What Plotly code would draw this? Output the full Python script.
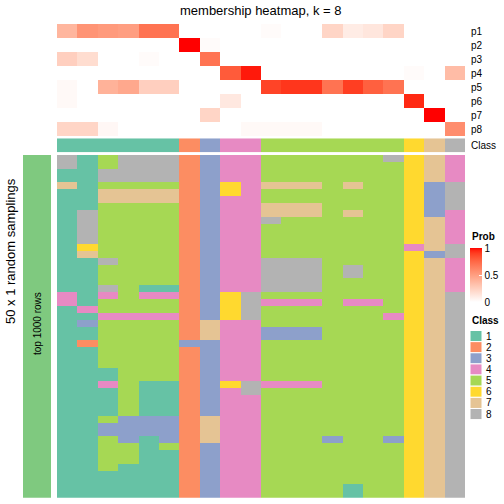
import plotly.graph_objects as go
import numpy as np

W = H = 504
FONT = "Liberation Sans"

title_text = "membership heatmap, k = 8"
left_title = "50 x 1 random samplings"
bar_label = "top 1000 rows"

prob_rows = ["p1", "p2", "p3", "p4", "p5", "p6", "p7", "p8"]
columns = list(range(1, 21))

p1 = [0.38, 0.55, 0.52, 0.50, 0.70, 0.70, 0, 0, 0, 0, 0.02, 0, 0, 0.22, 0.10, 0.13, 0.22, 0, 0, 0]
p2 = [0, 0, 0, 0, 0, 0, 1.0, 0.02, 0, 0, 0, 0, 0, 0, 0, 0, 0, 0, 0, 0]
p3 = [0.25, 0.18, 0, 0, 0.02, 0, 0, 0.70, 0, 0, 0, 0, 0, 0, 0, 0, 0, 0, 0, 0]
p4 = [0, 0, 0, 0, 0, 0, 0, 0, 0.80, 0.97, 0, 0, 0, 0, 0, 0, 0, 0.02, 0, 0.35]
p5 = [0.03, 0, 0.40, 0.45, 0.25, 0.25, 0, 0, 0, 0, 0.88, 0.92, 0.92, 0.70, 0.90, 0.78, 0.70, 0, 0, 0]
p6 = [0.03, 0, 0, 0, 0, 0, 0, 0, 0.12, 0, 0, 0, 0, 0, 0, 0, 0, 0.95, 0, 0]
p7 = [0, 0, 0, 0, 0, 0, 0, 0.22, 0, 0, 0, 0, 0, 0, 0, 0, 0, 0, 1.0, 0]
p8 = [0.22, 0.22, 0.04, 0, 0, 0, 0, 0, 0, 0.03, 0.03, 0.03, 0.03, 0, 0, 0, 0, 0, 0, 0.58]

column_class = [1, 1, 1, 1, 1, 1, 2, 3, 4, 4, 5, 5, 5, 5, 5, 5, 5, 6, 7, 8]

sampling_rows = [
    "81588823445555558674",
    "81588823445555555674",
    "11888823445555555674",
    "11888823445555555674",
    "71555523647775755638",
    "11777723645555555638",
    "11777723445555555638",
    "11555523447775555638",
    "18555523447775755634",
    "18555523448555555674",
    "18555523445555555674",
    "18555523445555555674",
    "18555523445555555674",
    "16555523445555555478",
    "17555523445555555638",
    "11855523448885555674",
    "11555523448885855674",
    "11555523448885855674",
    "11555523448885555674",
    "11851123448885555674",
    "41454423685555555678",
    "41555523684445445678",
    "14555523685555555678",
    "11444423685555554678",
    "13555527445555555678",
    "11555527443335555678",
    "11555527443335555678",
    "12555533445555555678",
    "11555523445555555678",
    "11555523445555555678",
    "11555523445555555678",
    "11155523445555555678",
    "11155523445555555678",
    "11451123684445555678",
    "11151123485555555678",
    "11151123445555555678",
    "11151123445555555678",
    "11151123445555555678",
    "11533327445555555678",
    "11333327445555555678",
    "11333327445555555678",
    "11531327445553553678",
    "11551523445555555678",
    "11551123445555555678",
    "11551123445555555678",
    "11511123445555555678",
    "11111123445555555678",
    "11111123445555555678",
    "11111123445555155678",
    "11111123445555155678",
]

class_labels = ["1", "2", "3", "4", "5", "6", "7", "8"]
class_colors = ["#66C2A5", "#FC8D62", "#8DA0CB", "#E78AC3",
                "#A6D854", "#FFD92F", "#E5C494", "#B3B3B3"]
prob_ticks = [0, 0.5, 1]
prob_tick_text = ["0", "0.5", "1"]
bar_color = "#7FC97F"


# ---- white -> red colour ramp interpolated in CIE LAB ----
def srgb_to_lab(rgb):
    c = np.array(rgb, dtype=float) / 255.0
    c = np.where(c > 0.04045, ((c + 0.055) / 1.055) ** 2.4, c / 12.92)
    M = np.array([[0.4124, 0.3576, 0.1805],
                  [0.2126, 0.7152, 0.0722],
                  [0.0193, 0.1192, 0.9505]])
    xyz = M @ c / np.array([0.95047, 1.0, 1.08883])
    f = np.where(xyz > 0.008856, np.cbrt(xyz), 7.787 * xyz + 16 / 116)
    return np.array([116 * f[1] - 16, 500 * (f[0] - f[1]), 200 * (f[1] - f[2])])


def lab_to_srgb(lab):
    L, a, b = lab
    fy = (L + 16) / 116
    fx = fy + a / 500
    fz = fy - b / 200
    f = np.array([fx, fy, fz])
    xyz = np.where(f ** 3 > 0.008856, f ** 3, (f - 16 / 116) / 7.787)
    xyz = xyz * np.array([0.95047, 1.0, 1.08883])
    Minv = np.array([[3.2406, -1.5372, -0.4986],
                     [-0.9689, 1.8758, 0.0415],
                     [0.0557, -0.2040, 1.0570]])
    c = Minv @ xyz
    c = np.clip(c, 0, 1)
    c = np.where(c > 0.0031308, 1.055 * c ** (1 / 2.4) - 0.055, 12.92 * c)
    c = np.clip(np.round(c * 255), 0, 255).astype(int)
    return "rgb(%d,%d,%d)" % tuple(c)


lw = srgb_to_lab((255, 255, 255))
lr = srgb_to_lab((255, 0, 0))
prob_scale = [[t, lab_to_srgb(lw + (lr - lw) * t)] for t in np.linspace(0, 1, 21)]

disc_scale = []
for k, col in enumerate(class_colors):
    disc_scale.append([k / 8, col])
    disc_scale.append([(k + 1) / 8, col])


def px(v):
    return v / W


def py(v):
    return 1 - v / H


prob_z = [p1, p2, p3, p4, p5, p6, p7, p8]
main_z = [[int(ch) for ch in row] for row in sampling_rows]

fig = go.Figure()

fig.add_trace(go.Heatmap(
    z=prob_z, x=columns, y=list(range(len(prob_rows))),
    colorscale=prob_scale, zmin=0, zmax=1, hoverinfo="skip",
    xaxis="x", yaxis="y",
    colorbar=dict(x=px(470), xanchor="left", xpad=0, thickness=12,
                  lenmode="pixels", len=54, y=py(248), yanchor="top", ypad=0,
                  outlinewidth=0, tickvals=prob_ticks, ticktext=prob_tick_text,
                  ticks="inside", tickcolor="white", ticklen=3,
                  tickfont=dict(family=FONT, size=10, color="black")),
))

fig.add_trace(go.Heatmap(
    z=[column_class], x=columns, y=[0],
    colorscale=disc_scale, zmin=0.5, zmax=8.5, showscale=False, hoverinfo="skip",
    xaxis="x2", yaxis="y2",
))

fig.add_trace(go.Heatmap(
    z=main_z, x=columns, y=list(range(len(sampling_rows))),
    colorscale=disc_scale, zmin=0.5, zmax=8.5, showscale=False, hoverinfo="skip",
    xaxis="x3", yaxis="y3",
))

fig.add_trace(go.Heatmap(
    z=[[1]], x=[0], y=[0],
    colorscale=[[0, bar_color], [1, bar_color]], showscale=False, hoverinfo="skip",
    xaxis="x4", yaxis="y4",
))

hx = [px(57), px(465)]
ax_common = dict(visible=False, fixedrange=True, showgrid=False, zeroline=False)
fig.update_layout(
    width=W, height=H,
    margin=dict(l=0, r=0, t=0, b=0),
    paper_bgcolor="white", plot_bgcolor="white",
    font=dict(family=FONT, color="black"),
    xaxis=dict(domain=hx, range=[0.5, 20.5], **ax_common),
    yaxis=dict(domain=[py(136.3), py(24)], range=[7.5, -0.5], **ax_common),
    xaxis2=dict(domain=hx, range=[0.5, 20.5], anchor="y2", **ax_common),
    yaxis2=dict(domain=[py(152.3), py(138.3)], range=[0.5, -0.5], anchor="x2", **ax_common),
    xaxis3=dict(domain=hx, range=[0.5, 20.5], anchor="y3", **ax_common),
    yaxis3=dict(domain=[py(497.7), py(155)], range=[49.5, -0.5], anchor="x3", **ax_common),
    xaxis4=dict(domain=[px(23), px(51)], range=[-0.5, 0.5], anchor="y4", **ax_common),
    yaxis4=dict(domain=[py(497.7), py(155)], range=[-0.5, 0.5], anchor="x4", **ax_common),
)

ann = []
ann.append(dict(text=title_text, x=px(261), y=py(10), xref="paper", yref="paper",
                xanchor="center", yanchor="middle", showarrow=False,
                font=dict(family=FONT, size=13)))
for i, name in enumerate(prob_rows):
    ann.append(dict(text=name, x=px(469), y=i, xref="paper", yref="y",
                    xanchor="left", yanchor="middle", showarrow=False,
                    font=dict(family=FONT, size=10)))
ann.append(dict(text="Class", x=px(469), y=0, xref="paper", yref="y2",
                xanchor="left", yanchor="middle", showarrow=False,
                font=dict(family=FONT, size=10)))
ann.append(dict(text=left_title, x=px(10), y=py(251), xref="paper", yref="paper",
                xanchor="center", yanchor="middle", textangle=-90, showarrow=False,
                font=dict(family=FONT, size=13)))
ann.append(dict(text=bar_label, x=0, y=py(324), xref="x4", yref="paper",
                xanchor="center", yanchor="middle", textangle=-90, showarrow=False,
                font=dict(family=FONT, size=10)))
ann.append(dict(text="<b>Prob</b>", x=px(470), y=py(236), xref="paper", yref="paper",
                xanchor="left", yanchor="middle", showarrow=False,
                font=dict(family=FONT, size=10)))
ann.append(dict(text="<b>Class</b>", x=px(470), y=py(320), xref="paper", yref="paper",
                xanchor="left", yanchor="middle", showarrow=False,
                font=dict(family=FONT, size=10)))

shapes = []
item_h = 11.14
top0 = 330.5
for k, (lab, col) in enumerate(zip(class_labels, class_colors)):
    y0 = top0 + k * item_h
    shapes.append(dict(type="rect", xref="paper", yref="paper",
                       x0=px(470), x1=px(482), y0=py(y0 + item_h), y1=py(y0),
                       fillcolor=col, line=dict(color="white", width=1)))
    ann.append(dict(text=lab, x=px(484), y=py(y0 + item_h / 2), xref="paper", yref="paper",
                    xanchor="left", yanchor="middle", showarrow=False,
                    font=dict(family=FONT, size=10)))

fig.update_layout(annotations=ann, shapes=shapes)
fig.write_html(
    "out.html",
    config={"displayModeBar": False},
    post_script="document.body.style.margin='0';document.body.style.padding='0';"
                "document.body.style.overflow='hidden';",
)
